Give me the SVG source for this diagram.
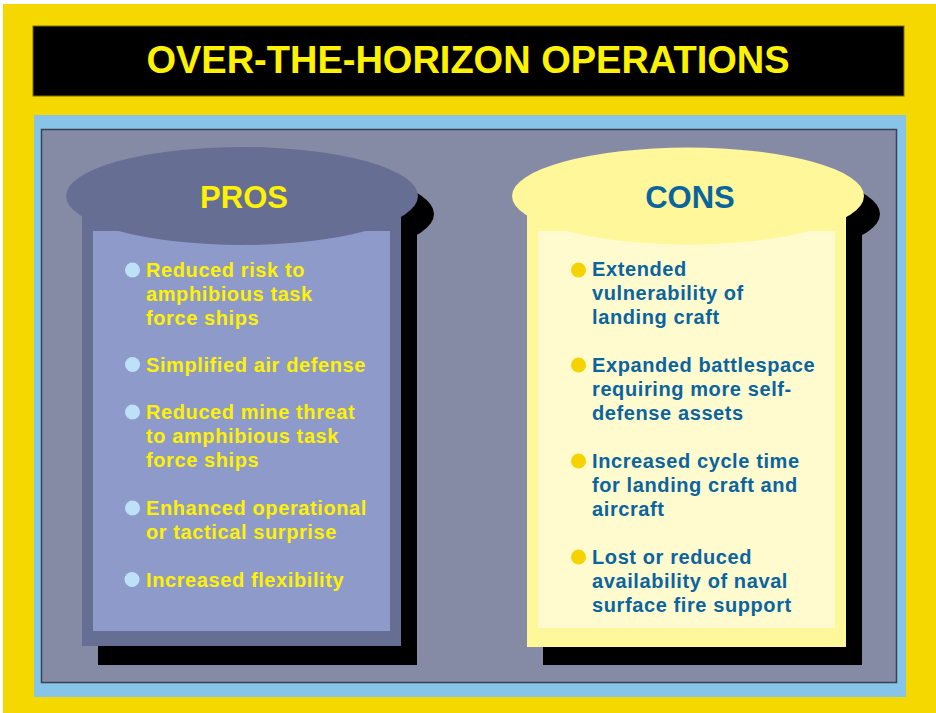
<svg xmlns="http://www.w3.org/2000/svg" width="936" height="713" viewBox="0 0 936 713">
<style>
.t{font-family:"Liberation Sans",Arial,sans-serif;font-weight:bold}
.pro{fill:#FFF200;font-size:20px;letter-spacing:0.6px}
.con{fill:#0A64A0;font-size:20px;letter-spacing:0.6px}
.pb{fill:#BDE2F7}
.cb{fill:#F5D300}
</style>
<rect x="0" y="0" width="936" height="713" fill="#FFFFFF"/>
<rect x="3" y="4" width="933" height="709" fill="#F5D800"/>
<g id="title">
<rect x="33" y="26" width="871" height="70" fill="#000000" stroke="#7A6A00" stroke-width="1"/>
<text class="t" x="468" y="73" text-anchor="middle" font-size="38" fill="#FFF200">OVER-THE-HORIZON OPERATIONS</text>
</g>
<rect x="34" y="115" width="872" height="582" fill="#87C5E8"/>
<rect x="41.5" y="129.5" width="855" height="553" fill="#858BA5" stroke="#3A4152" stroke-width="1.5"/>
<g id="pros">
<ellipse cx="258" cy="214" rx="176" ry="49" fill="#000"/>
<rect x="98" y="214" width="319" height="451" fill="#000"/>
<rect x="82" y="196" width="319" height="450" fill="#676E94"/>
<rect x="93" y="231" width="297" height="400" fill="#8E9ACA"/>
<ellipse cx="242" cy="196" rx="176" ry="49" fill="#676E94"/>
<text class="t" x="244" y="208" text-anchor="middle" font-size="31" fill="#FFF200">PROS</text>
<circle class="pb" cx="132.5" cy="270" r="7.5"/>
<text class="t pro" x="146" y="277">Reduced risk to</text>
<text class="t pro" x="146" y="301">amphibious task</text>
<text class="t pro" x="146" y="325">force ships</text>
<circle class="pb" cx="132.5" cy="364.5" r="7.5"/>
<text class="t pro" x="146" y="372">Simplified air defense</text>
<circle class="pb" cx="132.5" cy="412" r="7.5"/>
<text class="t pro" x="146" y="419">Reduced mine threat</text>
<text class="t pro" x="146" y="443">to amphibious task</text>
<text class="t pro" x="146" y="467">force ships</text>
<circle class="pb" cx="132.5" cy="508" r="7.5"/>
<text class="t pro" x="146" y="515">Enhanced operational</text>
<text class="t pro" x="146" y="539">or tactical surprise</text>
<circle class="pb" cx="132" cy="579.5" r="7.5"/>
<text class="t pro" x="146" y="587">Increased flexibility</text>
</g>
<g id="cons">
<ellipse cx="704" cy="214" rx="176" ry="48.5" fill="#000"/>
<rect x="543" y="214" width="319" height="451" fill="#000"/>
<rect x="527" y="196" width="319" height="451" fill="#FFF799"/>
<rect x="538" y="231" width="297" height="397" fill="#FFFBCE"/>
<ellipse cx="688" cy="196" rx="176" ry="48.5" fill="#FFF799"/>
<text class="t" x="690" y="208" text-anchor="middle" font-size="31" fill="#0A64A0">CONS</text>
<circle class="cb" cx="578.5" cy="270" r="7.5"/>
<text class="t con" x="592" y="276">Extended</text>
<text class="t con" x="592" y="300">vulnerability of</text>
<text class="t con" x="592" y="324">landing craft</text>
<circle class="cb" cx="578.5" cy="365" r="7.5"/>
<text class="t con" x="592" y="372">Expanded battlespace</text>
<text class="t con" x="592" y="396">requiring more self-</text>
<text class="t con" x="592" y="420">defense assets</text>
<circle class="cb" cx="578.5" cy="461" r="7.5"/>
<text class="t con" x="592" y="468">Increased cycle time</text>
<text class="t con" x="592" y="492">for landing craft and</text>
<text class="t con" x="592" y="516">aircraft</text>
<circle class="cb" cx="578.5" cy="557" r="7.5"/>
<text class="t con" x="592" y="564">Lost or reduced</text>
<text class="t con" x="592" y="588">availability of naval</text>
<text class="t con" x="592" y="612">surface fire support</text>
</g>
</svg>
